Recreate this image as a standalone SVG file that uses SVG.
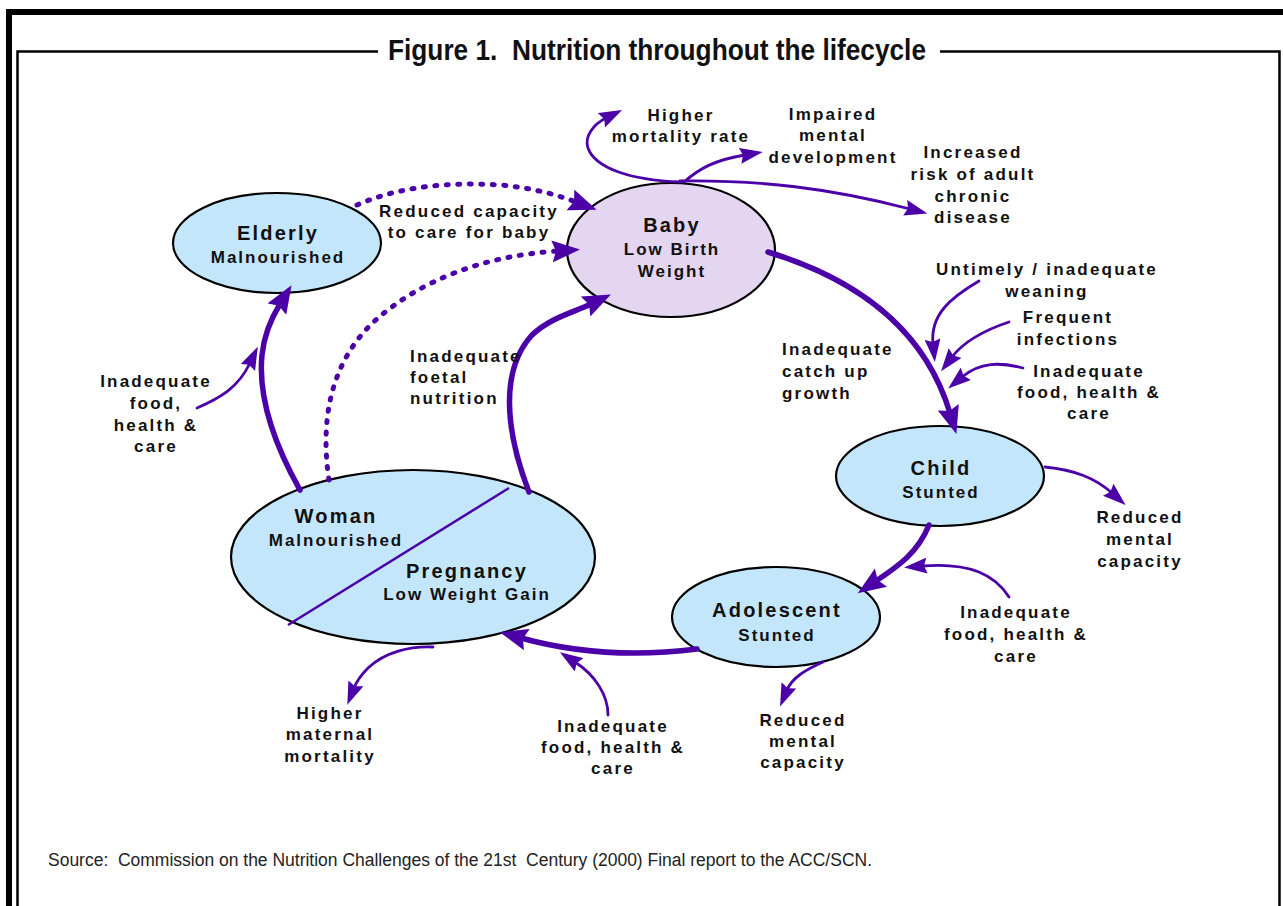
<svg xmlns="http://www.w3.org/2000/svg" width="1283" height="906" viewBox="0 0 1283 906">
<style>
.frame{fill:none;stroke:#000}
.node{stroke:#000;stroke-width:2.2}
.blue{fill:#C4E6FB}
.lilac{fill:#E4D6F1}
.t{font-family:"Liberation Sans",Arial,sans-serif;font-weight:bold;fill:#111}
.h{font-size:20px;letter-spacing:2.2px}
.s{font-size:17px;letter-spacing:2px}
.lab{font-family:"Liberation Sans",Arial,sans-serif;font-weight:bold;font-size:17px;letter-spacing:2.2px;fill:#111}
.c{text-anchor:middle}
.pre{white-space:pre}
.thick{fill:none;stroke:#4B00A8;stroke-width:5.5;stroke-linecap:round}
.thin{fill:none;stroke:#4B00A8;stroke-width:2.8;stroke-linecap:round}
.dot{fill:none;stroke:#4B00A8;stroke-width:5;stroke-linecap:round;stroke-dasharray:2 9.5}
</style>
<defs>
<marker id="big" markerUnits="userSpaceOnUse" viewBox="0 0 30 22" markerWidth="30" markerHeight="22" refX="6" refY="11" orient="auto"><path d="M0,0 L28,11 L0,22 L4,11 Z" fill="#4B00A8"/></marker>
<marker id="small" markerUnits="userSpaceOnUse" viewBox="0 0 24 16" markerWidth="24" markerHeight="16" refX="5" refY="8" orient="auto"><path d="M0,0 L23,8 L0,16 L3,8 Z" fill="#4B00A8"/></marker>
</defs>
<rect width="1283" height="906" fill="#fff"/>
<g id="frame">
<path class="frame" d="M9,906 V12 H1283" stroke-width="6"/>
<path class="frame" d="M17.5,906 V51.5 H378 M940,51.5 H1279.5 V906" stroke="#222" stroke-width="2.5"/>
<text x="657" y="60" class="c pre" xml:space="preserve" font-family="Liberation Sans, Arial, sans-serif" font-weight="bold" font-size="30" fill="#111" textLength="538" lengthAdjust="spacingAndGlyphs">Figure 1.  Nutrition throughout the lifecycle</text>
<text x="48" y="866" class="pre" xml:space="preserve" font-family="Liberation Sans, Arial, sans-serif" font-size="18" fill="#222" textLength="824" lengthAdjust="spacingAndGlyphs">Source:  Commission on the Nutrition Challenges of the 21st  Century (2000) Final report to the ACC/SCN.</text>
</g>
<g id="node-elderly">
<ellipse class="node blue" cx="277" cy="243" rx="104" ry="50"/>
<text class="t h c" x="278" y="240">Elderly</text>
<text class="t s c" x="278" y="263">Malnourished</text>
</g>
<g id="node-baby">
<ellipse class="node lilac" cx="671" cy="250" rx="104" ry="67"/>
<text class="t h c" x="672" y="232">Baby</text>
<text class="t s c" x="672" y="255">Low Birth</text>
<text class="t s c" x="672" y="277">Weight</text>
</g>
<g id="node-child">
<ellipse class="node blue" cx="940" cy="476" rx="104" ry="50"/>
<text class="t h c" x="941" y="475">Child</text>
<text class="t s c" x="941" y="498">Stunted</text>
</g>
<g id="node-adolescent">
<ellipse class="node blue" cx="776" cy="617" rx="104" ry="50"/>
<text class="t h c" x="777" y="617">Adolescent</text>
<text class="t s c" x="777" y="641">Stunted</text>
</g>
<g id="node-woman">
<ellipse class="node blue" cx="413" cy="557" rx="182" ry="87"/>
<line x1="288" y1="625" x2="509" y2="488" stroke="#4B00A8" stroke-width="2.5"/>
<text class="t h c" x="336" y="523">Woman</text>
<text class="t s c" x="336" y="546">Malnourished</text>
<text class="t h c" x="467" y="578">Pregnancy</text>
<text class="t s c" x="467" y="600">Low Weight Gain</text>
</g>
<g id="connectors">
<path class="thick" d="M768,252 C 860,280 925,330 950,413" marker-end="url(#big)"/>
<path class="thick" d="M929,525 C 918,552 900,565 876,581" marker-end="url(#big)"/>
<path class="thick" d="M697,649 C 650,655 590,657 521,638" marker-end="url(#big)"/>
<path class="thick" d="M529,492 C 505,430 500,370 532,335 C 550,318 572,313 591,304" marker-end="url(#big)"/>
<path class="thick" d="M300,490 C 272,440 258,395 262,355 C 264,335 272,317 280,304" marker-end="url(#big)"/>
<path class="dot" d="M329,480 C 320,420 330,360 378,318 C 420,282 480,256 558,251" marker-end="url(#big)"/>
<path class="dot" d="M357,205 C 400,186 450,182 500,185 C 535,188 560,196 576,202" marker-end="url(#big)"/>
<path class="thin" d="M680,182 C 630,180 595,168 588,148 C 584,136 594,124 606,118" marker-end="url(#small)"/>
<path class="thin" d="M684,182 C 700,168 715,160 745,155" marker-end="url(#small)"/>
<path class="thin" d="M680,181 C 760,180 830,188 910,209" marker-end="url(#small)"/>
<path class="thin" d="M979,281 C 950,298 930,315 933,344" marker-end="url(#small)"/>
<path class="thin" d="M1009,322 C 985,330 965,340 952,357" marker-end="url(#small)"/>
<path class="thin" d="M1023,368 C 1000,362 980,362 962,377" marker-end="url(#small)"/>
<path class="thin" d="M1009,597 C 995,575 970,562 922,566" marker-end="url(#small)"/>
<path class="thin" d="M1045,467 C 1075,470 1095,478 1112,493" marker-end="url(#small)"/>
<path class="thin" d="M823,662 C 805,670 792,678 787,690" marker-end="url(#small)"/>
<path class="thin" d="M433,647 C 410,646 385,652 368,668 C 360,676 356,683 354,688" marker-end="url(#small)"/>
<path class="thin" d="M608,715 C 608,695 595,675 575,662" marker-end="url(#small)"/>
<path class="thin" d="M197,408 C 220,398 238,388 250,363" marker-end="url(#small)"/>
</g>
<g id="labels">
<text class="lab c" x="681" y="121">Higher</text>
<text class="lab c" x="681" y="142">mortality rate</text>
<text class="lab c" x="833" y="120">Impaired</text>
<text class="lab c" x="833" y="141">mental</text>
<text class="lab c" x="833" y="163">development</text>
<text class="lab c" x="973" y="158">Increased</text>
<text class="lab c" x="973" y="180">risk of adult</text>
<text class="lab c" x="973" y="202">chronic</text>
<text class="lab c" x="973" y="223">disease</text>
<text class="lab c" x="469" y="217">Reduced capacity</text>
<text class="lab c" x="469" y="238">to care for baby</text>
<text class="lab c" x="1047" y="275">Untimely / inadequate</text>
<text class="lab c" x="1047" y="297">weaning</text>
<text class="lab c" x="1068" y="323">Frequent</text>
<text class="lab c" x="1068" y="345">infections</text>
<text class="lab c" x="1089" y="377">Inadequate</text>
<text class="lab c" x="1089" y="398">food, health &amp;</text>
<text class="lab c" x="1089" y="419">care</text>
<text class="lab" x="782" y="355">Inadequate</text>
<text class="lab" x="782" y="377">catch up</text>
<text class="lab" x="782" y="399">growth</text>
<text class="lab c" x="1140" y="523">Reduced</text>
<text class="lab c" x="1140" y="545">mental</text>
<text class="lab c" x="1140" y="567">capacity</text>
<text class="lab c" x="1016" y="618">Inadequate</text>
<text class="lab c" x="1016" y="640">food, health &amp;</text>
<text class="lab c" x="1016" y="662">care</text>
<text class="lab c" x="803" y="726">Reduced</text>
<text class="lab c" x="803" y="747">mental</text>
<text class="lab c" x="803" y="768">capacity</text>
<text class="lab c" x="613" y="732">Inadequate</text>
<text class="lab c" x="613" y="753">food, health &amp;</text>
<text class="lab c" x="613" y="774">care</text>
<text class="lab c" x="330" y="719">Higher</text>
<text class="lab c" x="330" y="740">maternal</text>
<text class="lab c" x="330" y="762">mortality</text>
<text class="lab" x="410" y="362">Inadequate</text>
<text class="lab" x="410" y="383">foetal</text>
<text class="lab" x="410" y="404">nutrition</text>
<text class="lab c" x="156" y="387">Inadequate</text>
<text class="lab c" x="156" y="409">food,</text>
<text class="lab c" x="156" y="431">health &amp;</text>
<text class="lab c" x="156" y="452">care</text>
</g>
</svg>
